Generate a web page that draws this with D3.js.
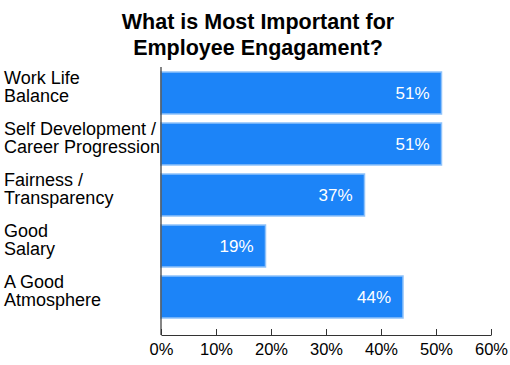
<!DOCTYPE html>
<html>
<head>
<meta charset="utf-8">
<script src="https://cdn.jsdelivr.net/npm/d3@7"></script>
<style>
  html, body { margin: 0; padding: 0; background: #fff; }
  svg { display: block; font-family: "Liberation Sans", Arial, sans-serif; }
</style>
</head>
<body>
<svg id="chart" width="510" height="365"></svg>
<script>
const titleLines = ["What is Most Important for", "Employee Engagament?"];
const categories = [
  ["Work Life", "Balance"],
  ["Self Development /", "Career Progression"],
  ["Fairness /", "Transparency"],
  ["Good", "Salary"],
  ["A Good", "Atmosphere"]
];
const values = [51, 51, 37, 19, 44];
const tickValues = [0, 10, 20, 30, 40, 50, 60];

const svg = d3.select("#chart");
const x0 = 161, x1 = 491, axisTop = 67, axisBottom = 335;

const x = d3.scaleLinear().domain([0, 60]).range([x0, x1]);
const ids = categories.map((c, i) => i);
const y = d3.scaleBand().domain(ids).range([72, 72 + 5 * 51 - 9]).paddingInner(9 / 51).paddingOuter(0);

// title
svg.append("text")
  .attr("x", 258).attr("y", 29)
  .attr("text-anchor", "middle")
  .attr("font-size", 21.5).attr("font-weight", "bold").attr("fill", "#000")
  .selectAll("tspan").data(titleLines).join("tspan")
  .attr("x", 258).attr("dy", (d, i) => i === 0 ? 0 : 26)
  .text(d => d);

// bars
svg.append("g").selectAll("rect").data(values).join("rect")
  .attr("x", x(0))
  .attr("y", (d, i) => y(i))
  .attr("width", d => x(d) - x(0))
  .attr("height", y.bandwidth())
  .attr("fill", "#1c84f8")
  .attr("stroke", "#8fc2fa")
  .attr("stroke-width", 1.5);

// value labels
svg.append("g").selectAll("text").data(values).join("text")
  .attr("x", d => x(d) - 12)
  .attr("y", (d, i) => y(i) + y.bandwidth() / 2)
  .attr("dy", "0.36em")
  .attr("text-anchor", "end")
  .attr("font-size", 17)
  .attr("fill", "#fff")
  .text(d => d + "%");

// category labels
const lab = svg.append("g").selectAll("text").data(categories).join("text")
  .attr("x", 4)
  .attr("y", (d, i) => y(i) + y.bandwidth() / 2 - 9)
  .attr("dy", "0.36em")
  .attr("font-size", 18)
  .attr("fill", "#000");
lab.selectAll("tspan").data(d => d).join("tspan")
  .attr("x", 4)
  .attr("dy", (d, i) => i === 0 ? 0 : 18.3)
  .text(d => d);

// vertical axis line
svg.append("line")
  .attr("x1", x0).attr("x2", x0)
  .attr("y1", axisTop).attr("y2", axisBottom)
  .attr("stroke", "#333").attr("stroke-width", 1.2);

// x axis
const xAxis = d3.axisBottom(x)
  .tickValues(tickValues)
  .tickFormat(d => d + "%")
  .tickSizeInner(-6)
  .tickSizeOuter(0)
  .tickPadding(8.5);
const gx = svg.append("g").attr("transform", `translate(0,${axisBottom})`).call(xAxis);
gx.select(".domain").attr("stroke", "#333").attr("stroke-width", 1.2);
gx.selectAll(".tick line").attr("stroke", "#333").attr("stroke-width", 1);
gx.selectAll(".tick text")
  .attr("font-size", 16.5)
  .attr("font-family", "Liberation Sans, Arial, sans-serif")
  .attr("fill", "#000");
</script>
</body>
</html>
